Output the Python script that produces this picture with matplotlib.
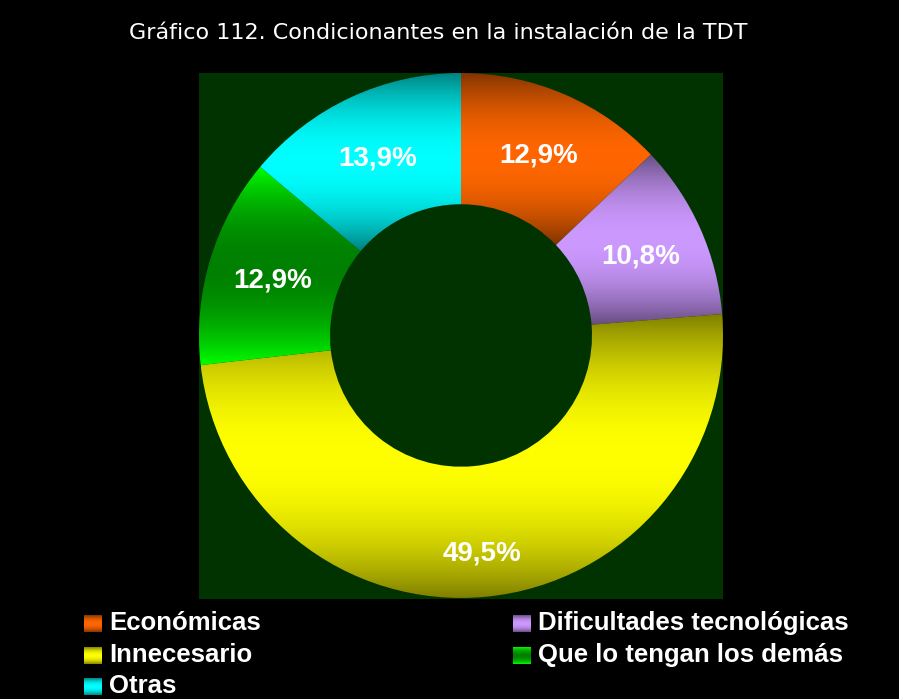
import numpy as np
import matplotlib.pyplot as plt
from matplotlib.colors import to_rgb

plt.rcParams['font.family'] = ['Liberation Sans', 'DejaVu Sans']

# Data
categorias = ["Económicas", "Dificultades tecnológicas", "Innecesario",
              "Que lo tengan los demás", "Otras"]
valores = [12.9, 10.8, 49.5, 12.9, 13.9]
etiquetas = ["12,9%", "10,8%", "49,5%", "12,9%", "13,9%"]

# gradient colours: (edge colour, centre colour)
gradientes = [("#7f3300", "#ff6600"),
              ("#664c80", "#cc99ff"),
              ("#808000", "#ffff00"),
              ("#00ff00", "#008000"),
              ("#008080", "#00ffff")]

titulo = "Gráfico 112. Condicionantes en la instalación de la TDT"


def gradient_img(c_edge, c_mid, n=256):
    # vertical band: edge colour at top and bottom, centre colour in the middle
    t = np.linspace(0, 1, n)
    w = 1 - (2 * t - 1) ** 2
    a = np.array(to_rgb(c_edge))
    b = np.array(to_rgb(c_mid))
    col = a[None, :] + (b - a)[None, :] * w[:, None]
    return col[:, None, :]


fig = plt.figure(figsize=(8.99, 6.99), dpi=100)
fig.patch.set_facecolor("black")

ax = fig.add_axes([199 / 899, 100 / 699, 524 / 899, 526 / 699])

wedges, _ = ax.pie(valores, startangle=90, counterclock=False, radius=1,
                   wedgeprops=dict(width=0.5, linewidth=0))
ax.set_frame_on(True)
ax.set_facecolor("#003300")

for wd, (c1, c2), lab in zip(wedges, gradientes, etiquetas):
    wd.set_facecolor("none")
    bb = wd.get_path().get_extents()
    im = ax.imshow(gradient_img(c1, c2), extent=(bb.x0, bb.x1, bb.y0, bb.y1),
                   aspect="auto", origin="upper", interpolation="bilinear",
                   zorder=1)
    im.set_clip_path(wd)
    ang = np.radians((wd.theta1 + wd.theta2) / 2)
    r = 0.83 if lab == "49,5%" else 0.75
    ax.text(r * np.cos(ang), r * np.sin(ang) - 0.005, lab, color="white",
            fontsize=20, fontweight="bold", ha="center", va="center", zorder=3)

ax.set_xlim(-1, 1)
ax.set_ylim(-1.004, 1)
ax.set_xticks([])
ax.set_yticks([])
for s in ax.spines.values():
    s.set_visible(False)

fig.text(438 / 899, 1 - 33 / 699, titulo, color="white", fontsize=16,
         family="DejaVu Sans", ha="center", va="center")

# legend, row by row in two columns
pos_leg = [(84, 623), (513, 623), (84, 655), (513, 655), (84, 686)]
for (px, py), nombre, (c1, c2) in zip(pos_leg, categorias, gradientes):
    sw = fig.add_axes([px / 899, 1 - (py + 9) / 699, 18 / 899, 17 / 699])
    sw.imshow(gradient_img(c1, c2), aspect="auto", interpolation="bilinear")
    sw.axis("off")
    fig.text((px + 25) / 899, 1 - py / 699, nombre, color="white",
             fontsize=18.5, fontweight="bold", ha="left", va="center")

fig.savefig("out.png", dpi=100, facecolor="black")
